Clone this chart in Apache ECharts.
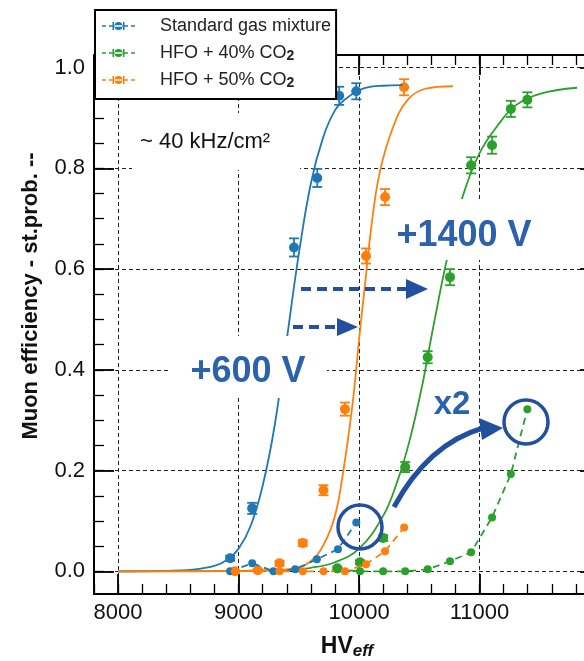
<!DOCTYPE html>
<html>
<head>
<meta charset="utf-8">
<title>Muon efficiency vs HV</title>
<script src="https://cdn.jsdelivr.net/npm/echarts@6.0.0/dist/echarts.min.js"></script>
<style>
    html, body { margin: 0; padding: 0; background: #fff; }
    #chart { width: 584px; height: 661px; }
</style>
</head>
<body>
<div id="chart"></div>
<script>
var FONT = "'Liberation Sans', Arial, Helvetica, sans-serif";
var BLUE = '#1f77b4', ORANGE = '#ff7f0e', GREEN = '#2ca02c';

// standard gas mixture
var stdHV = [8930, 9113, 9460, 9653, 9835, 9977];
var stdEff = [0.026, 0.125, 0.643, 0.781, 0.944, 0.953];
var stdErr = [0.005, 0.011, 0.018, 0.018, 0.018, 0.016];
var stdProbHV = [8930, 9113, 9290, 9470, 9650, 9825, 9977];
var stdProb = [0, 0.016, 0, 0.004, 0.024, 0.044, 0.097];
var stdFitHV = [8000, 8400, 8600, 8800, 8900, 9000, 9100, 9200, 9300, 9400, 9500, 9600, 9700, 9800, 9900, 10000, 10100, 10200, 10360];
var stdFit = [0, 0.001, 0.003, 0.011, 0.022, 0.045, 0.09, 0.17, 0.29, 0.46, 0.63, 0.77, 0.86, 0.915, 0.94, 0.955, 0.962, 0.964, 0.965];

// HFO + 40% CO2
var h40HV = [9820, 10008, 10200, 10383, 10570, 10755, 10930, 11104, 11260, 11397];
var h40Eff = [0.006, 0.018, 0.066, 0.207, 0.425, 0.584, 0.806, 0.846, 0.918, 0.936];
var h40Err = [0.003, 0.004, 0.006, 0.01, 0.012, 0.016, 0.016, 0.017, 0.016, 0.015];
var h40Prob = [0.004, 0, 0, 0, 0.004, 0.02, 0.038, 0.107, 0.193, 0.322];
var h40FitHV = [8000, 9000, 9400, 9600, 9800, 10000, 10200, 10320, 10420, 10525, 10612, 10730, 10855, 11000, 11150, 11300, 11500, 11810];
var h40Fit = [0, 0.001, 0.003, 0.007, 0.018, 0.045, 0.11, 0.18, 0.26, 0.37, 0.48, 0.62, 0.74, 0.83, 0.885, 0.925, 0.948, 0.96];

// HFO + 50% CO2
var h50HV = [8970, 9160, 9340, 9533, 9705, 9883, 10058, 10216, 10374];
var h50Eff = [0, 0.002, 0.016, 0.056, 0.161, 0.322, 0.626, 0.743, 0.961];
var h50Err = [0.002, 0.002, 0.005, 0.006, 0.01, 0.013, 0.015, 0.016, 0.016];
var h50Prob = [0, 0.002, 0, 0, 0, 0, 0.014, 0.04, 0.087];
var h50FitHV = [8000, 9000, 9300, 9500, 9600, 9700, 9800, 9870, 9950, 10000, 10050, 10100, 10170, 10280, 10400, 10550, 10780];
var h50Fit = [0, 0.0005, 0.002, 0.008, 0.02, 0.05, 0.11, 0.2, 0.34, 0.46, 0.57, 0.68, 0.79, 0.88, 0.935, 0.958, 0.963];

// axes
var xMajor = [8000, 9000, 10000, 11000];
var xMinor = [7800, 8000, 8200, 8400, 8600, 8800, 9000, 9200, 9400, 9600, 9800, 10000,
    10200, 10400, 10600, 10800, 11000, 11200, 11400, 11600, 11800];
var yMajor = [0, 0.2, 0.4, 0.6, 0.8, 1.0];
var yMinor = [0, 0.05, 0.1, 0.15, 0.2, 0.25, 0.3, 0.35, 0.4, 0.45, 0.5, 0.55, 0.6, 0.65,
    0.7, 0.75, 0.8, 0.85, 0.9, 0.95, 1.0];

var legendNames = ['Standard gas mixture', 'HFO + 40% CO2', 'HFO + 50% CO2'];

function zip(xs, ys) {
    return xs.map(function (x, i) { return [x, ys[i]]; });
}

function errRows(xs, ys, es) {
    return xs.map(function (x, i) { return [x, ys[i] - es[i], ys[i] + es[i]]; });
}

function errorBars(params, api) {
    var x = api.value(0);
    var lo = api.coord([x, api.value(1)]);
    var hi = api.coord([x, api.value(2)]);
    var style = { stroke: api.visual('color'), lineWidth: 1.8, fill: null };
    return {
        type: 'group',
        children: [
            { type: 'line', shape: { x1: lo[0], y1: lo[1], x2: hi[0], y2: hi[1] }, style: style },
            { type: 'line', shape: { x1: lo[0] - 5, y1: lo[1], x2: lo[0] + 5, y2: lo[1] }, style: style },
            { type: 'line', shape: { x1: hi[0] - 5, y1: hi[1], x2: hi[0] + 5, y2: hi[1] }, style: style }
        ]
    };
}

function spine(dim, pos, ticks, len, extra) {
    var ax = {
        type: 'value',
        position: pos,
        min: dim === 'x' ? 7800 : -0.045,
        max: dim === 'x' ? 12000 : 1.025,
        axisLine: { show: true, onZero: false, lineStyle: { color: '#000', width: 2 } },
        axisTick: { show: true, inside: true, length: len, customValues: ticks,
            lineStyle: { color: '#000', width: len > 12 ? 1.8 : 1.3 } },
        axisLabel: { show: false },
        splitLine: { show: false }
    };
    return Object.assign(ax, extra || {});
}

var gridDash = { show: true, lineStyle: { color: '#222', width: 1, type: [4, 3] } };

function fitSeries(xs, ys, color) {
    return {
        type: 'line', name: 'fit', data: zip(xs, ys), xAxisIndex: 1, yAxisIndex: 1,
        showSymbol: false, smooth: 0.4, silent: true,
        lineStyle: { color: color, width: 1.8 }, itemStyle: { color: color }
    };
}

function probSeries(name, xs, ys, color) {
    return {
        type: 'line', name: name, data: zip(xs, ys), xAxisIndex: 1, yAxisIndex: 1,
        symbol: 'circle', symbolSize: 8, showSymbol: true,
        lineStyle: { color: color, width: 1.8, type: [7, 5] }, itemStyle: { color: color }
    };
}

function errSeries(xs, ys, es, color) {
    return {
        type: 'custom', name: 'err', renderItem: errorBars, data: errRows(xs, ys, es),
        xAxisIndex: 1, yAxisIndex: 1, encode: { x: 0, y: [1, 2] },
        itemStyle: { color: color }, silent: true
    };
}

function effSeries(xs, ys, color) {
    return {
        type: 'scatter', name: 'eff', data: zip(xs, ys), xAxisIndex: 1, yAxisIndex: 1,
        symbolSize: 10, itemStyle: { color: color, opacity: 1 }
    };
}

// legend handle: dashed line with error-bar caps and a dot
var legendIcon = 'path://M0 3.25H4V4.75H0Z M7 3.25H26V4.75H7Z M29 3.25H33V4.75H29Z' +
    ' M10.5 0H12V8H10.5Z M21 0H22.5V8H21Z M12.5 4A4 4 0 1 0 20.5 4A4 4 0 1 0 12.5 4Z';

var annText = '#2c61ab', annLine = '#22509f';

var chart = echarts.init(document.getElementById('chart'));
chart.setOption({
    backgroundColor: '#fff',
    animation: false,
    textStyle: { fontFamily: FONT },
    grid: { left: 94, right: -16, top: 55, bottom: 67, containLabel: false, outerBoundsMode: 'none' },
    legend: {
        data: legendNames,
        orient: 'vertical',
        left: 95, top: 10,
        padding: [6, 5, 9, 7],
        itemGap: 7,
        itemWidth: 33, itemHeight: 8,
        icon: legendIcon,
        backgroundColor: '#fff',
        borderColor: '#000', borderWidth: 2, borderRadius: 0,
        selectedMode: false,
        formatter: function (name) { return name.replace('CO2', 'CO{sub|2}'); },
        textStyle: {
            fontSize: 18, color: '#222', fontFamily: FONT, lineHeight: 20,
            padding: [0, 0, 0, 20],
            rich: { sub: { fontSize: 14, fontWeight: 'bold', color: '#222', padding: [6, 0, 0, 0] } }
        }
    },
    xAxis: [
        spine('x', 'bottom', xMinor, 10),
        spine('x', 'bottom', xMajor, 20, {
            axisLabel: { show: true, customValues: xMajor, fontSize: 22, color: '#111', margin: 8, fontFamily: FONT,
                formatter: function (v) { return String(v); } },
            splitLine: gridDash,
            name: '{hv|HV}{eff|eff}',
            nameLocation: 'middle', nameGap: 40,
            nameTextStyle: { rich: {
                hv: { fontSize: 23, fontWeight: 'bold', color: '#111', fontFamily: FONT },
                eff: { fontSize: 17, fontWeight: 'bold', fontStyle: 'italic', color: '#111', fontFamily: FONT, padding: [9, 0, 0, 0] }
            } }
        }),
        spine('x', 'top', xMinor, 10),
        spine('x', 'top', xMajor, 20)
    ],
    yAxis: [
        spine('y', 'left', yMinor, 10),
        spine('y', 'left', yMajor, 20, {
            axisLabel: { show: true, customValues: yMajor, fontSize: 22, color: '#111', margin: 9, fontFamily: FONT,
                formatter: function (v) { return v.toFixed(1); } },
            splitLine: gridDash
        }),
        spine('y', 'right', yMajor, 20)
    ],
    series: [
        fitSeries(stdFitHV, stdFit, BLUE),
        fitSeries(h40FitHV, h40Fit, GREEN),
        fitSeries(h50FitHV, h50Fit, ORANGE),
        probSeries(legendNames[0], stdProbHV, stdProb, BLUE),
        probSeries(legendNames[1], h40HV, h40Prob, GREEN),
        probSeries(legendNames[2], h50HV, h50Prob, ORANGE),
        errSeries(stdHV, stdEff, stdErr, BLUE),
        errSeries(h40HV, h40Eff, h40Err, GREEN),
        errSeries(h50HV, h50Eff, h50Err, ORANGE),
        effSeries(stdHV, stdEff, BLUE),
        effSeries(h40HV, h40Eff, GREEN),
        effSeries(h50HV, h50Eff, ORANGE)
    ],
    graphic: [
        // y axis title, sits a bit above the axis middle like the original
        { type: 'text', z: 11, x: 31, y: 296, rotation: Math.PI / 2,
            style: { text: 'Muon efficiency - st.prob. --', font: 'bold 22px ' + FONT, fill: '#111', align: 'center', verticalAlign: 'middle' } },
        // white boxes behind the annotation texts
        { type: 'rect', z: 10, shape: { x: 132, y: 113, width: 168, height: 57 }, style: { fill: '#fff' } },
        { type: 'rect', z: 10, shape: { x: 168, y: 336, width: 159, height: 62 }, style: { fill: '#fff' } },
        { type: 'rect', z: 10, shape: { x: 391, y: 199, width: 154, height: 61 }, style: { fill: '#fff' } },
        { type: 'text', z: 11, x: 140, y: 142, style: { text: '~ 40 kHz/cm²', font: '22px ' + FONT, fill: '#111', verticalAlign: 'middle' } },
        { type: 'text', z: 11, x: 248, y: 372, style: { text: '+600 V', font: 'bold 36px ' + FONT, fill: annText, align: 'center', verticalAlign: 'middle' } },
        { type: 'text', z: 11, x: 464, y: 236, style: { text: '+1400 V', font: 'bold 36px ' + FONT, fill: annText, align: 'center', verticalAlign: 'middle' } },
        { type: 'text', z: 11, x: 452, y: 405, style: { text: 'x2', font: 'bold 33px ' + FONT, fill: annText, align: 'center', verticalAlign: 'middle' } },
        // dashed shift arrows
        { type: 'line', z: 12, shape: { x1: 301, y1: 289, x2: 408, y2: 289 }, style: { stroke: annLine, lineWidth: 4, lineDash: [10, 6] } },
        { type: 'polygon', z: 12, shape: { points: [[406, 279], [428, 289], [406, 299]] }, style: { fill: annLine } },
        { type: 'line', z: 12, shape: { x1: 293, y1: 327, x2: 339, y2: 327 }, style: { stroke: annLine, lineWidth: 4, lineDash: [10, 6] } },
        { type: 'polygon', z: 12, shape: { points: [[337, 318], [358, 327], [337, 336]] }, style: { fill: annLine } },
        // curved arrow and circles
        { type: 'bezierCurve', z: 12, shape: { x1: 394, y1: 507, cpx1: 428, cpy1: 444, x2: 483, y2: 428 },
            style: { stroke: annLine, lineWidth: 5, fill: 'rgba(0,0,0,0)' } },
        { type: 'polygon', z: 12, shape: { points: [[479, 418], [503, 428], [482, 440]] }, style: { fill: annLine } },
        { type: 'circle', z: 12, shape: { cx: 360, cy: 527, r: 22 }, style: { stroke: annLine, lineWidth: 3.5, fill: 'rgba(0,0,0,0)' } },
        { type: 'circle', z: 12, shape: { cx: 526, cy: 422, r: 22 }, style: { stroke: annLine, lineWidth: 3.5, fill: 'rgba(0,0,0,0)' } }
    ]
});
</script>
</body>
</html>
